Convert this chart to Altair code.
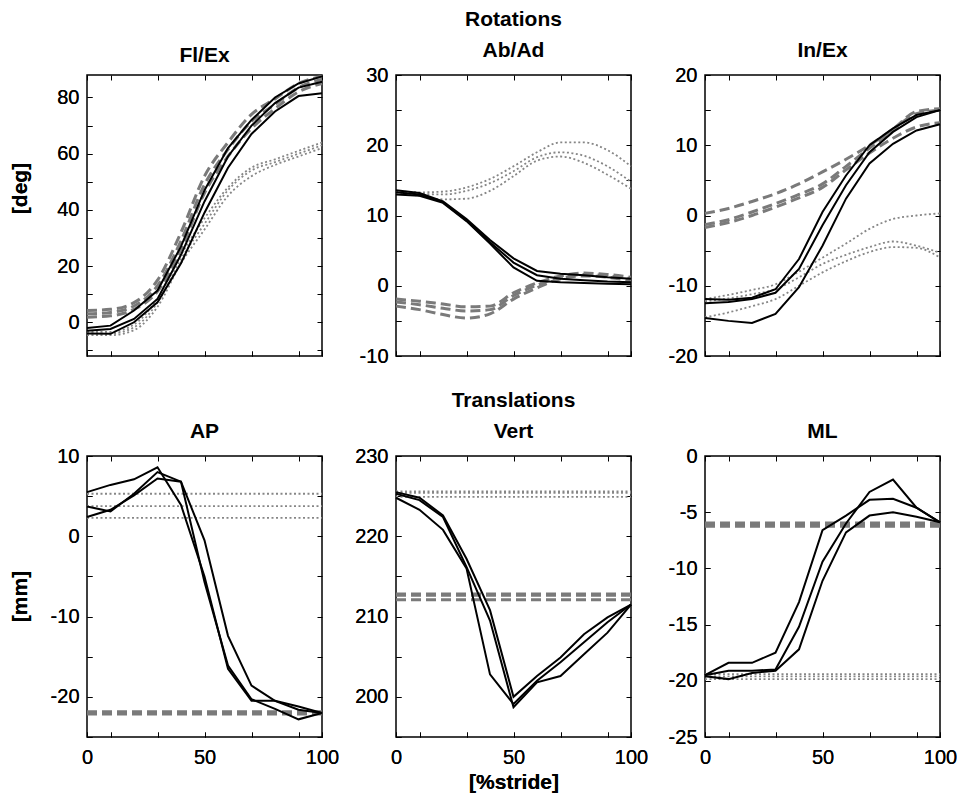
import altair as alt
import pandas as pd

# ---------------- data ----------------
X = [0, 10, 20, 30, 40, 50, 60, 70, 80, 90, 100]
X_ENDS = [0, 100]

# Rotations
FLEX_SOLID = [
    [-2.0, -1.2, 4.2, 11.3, 27.0, 47.0, 62.0, 72.0, 80.0, 85.0, 87.5],
    [-3.0, -2.4, 1.2, 8.3, 24.0, 43.0, 59.0, 70.0, 78.0, 83.5, 85.6],
    [-4.0, -4.1, 0.0, 7.1, 21.0, 39.0, 55.0, 67.0, 75.0, 80.5, 81.5],
]
FLEX_DASHED = [
    [4.2, 4.6, 7.0, 15.0, 32.0, 52.0, 64.0, 74.0, 79.5, 85.0, 87.5],
    [3.0, 3.5, 5.8, 13.0, 29.0, 49.0, 61.5, 71.5, 77.5, 83.5, 86.5],
    [1.8, 2.3, 4.6, 11.0, 26.0, 46.0, 59.0, 69.0, 76.0, 82.0, 85.0],
]
FLEX_DOTTED = [
    [-3.4, -3.4, -0.8, 8.5, 24.0, 37.0, 48.0, 55.0, 58.0, 61.0, 64.0],
    [-4.0, -4.0, -1.8, 7.0, 22.5, 35.0, 47.0, 54.0, 57.0, 60.0, 63.0],
    [-4.6, -4.6, -2.8, 5.5, 21.0, 33.0, 45.0, 52.0, 56.0, 59.0, 62.0],
]

ABAD_SOLID = [
    [13.6, 13.2, 12.0, 9.5, 6.5, 3.9, 2.1, 1.7, 1.5, 1.2, 1.0],
    [13.3, 13.0, 11.9, 9.3, 6.2, 3.3, 1.5, 1.0, 0.8, 0.6, 0.5],
    [13.0, 12.8, 11.8, 9.2, 6.0, 2.6, 0.7, 0.5, 0.4, 0.3, 0.2],
]
ABAD_DASHED = [
    [-1.9, -2.2, -2.6, -3.0, -2.9, -1.0, 0.4, 1.4, 1.8, 1.6, 1.2],
    [-2.3, -2.7, -3.2, -3.6, -3.4, -1.4, 0.1, 1.2, 1.6, 1.4, 1.0],
    [-2.9, -3.4, -4.1, -4.6, -4.0, -1.9, -0.3, 1.0, 1.4, 1.2, 0.7],
]
ABAD_DOTTED = [
    [13.5, 13.3, 13.4, 14.0, 15.2, 17.0, 19.0, 20.4, 20.4, 19.3, 17.0],
    [13.4, 13.1, 13.0, 13.5, 14.6, 16.3, 18.3, 19.0, 18.5, 17.0, 14.8],
    [13.3, 12.8, 12.3, 12.4, 13.5, 15.6, 17.8, 18.4, 17.5, 15.8, 13.8],
]

INEX_SOLID = [
    [-11.9, -12.0, -11.7, -10.5, -6.2, 0.5, 5.7, 10.0, 12.4, 14.3, 15.0],
    [-12.5, -12.3, -11.9, -11.0, -7.6, -1.4, 4.3, 9.0, 11.9, 14.0, 15.0],
    [-14.6, -15.0, -15.3, -14.0, -10.2, -4.3, 2.4, 7.4, 10.2, 12.1, 13.0],
]
INEX_DASHED = [
    [0.3, 1.0, 2.0, 3.1, 4.5, 6.2, 8.0, 10.0, 12.3, 14.8, 15.2],
    [-1.3, -0.6, 0.5, 1.7, 3.0, 4.5, 7.0, 9.6, 12.2, 14.5, 15.0],
    [-1.7, -1.0, 0.0, 1.2, 2.5, 4.0, 6.5, 8.9, 11.0, 12.6, 13.2],
]
INEX_DOTTED = [
    [-11.9, -11.3, -10.6, -9.8, -8.0, -6.0, -4.0, -1.9, -0.5, 0.0, 0.3],
    [-12.2, -11.8, -11.2, -10.5, -8.8, -6.9, -5.6, -4.5, -3.7, -4.3, -5.3],
    [-14.5, -13.8, -12.9, -11.9, -10.0, -8.1, -6.5, -5.2, -4.5, -4.6, -6.0],
]

# Translations
AP_SOLID = [
    [5.5, 6.4, 7.1, 8.6, 3.9, -5.0, -16.5, -20.5, -20.5, -21.2, -22.0],
    [3.7, 3.1, 5.3, 8.0, 6.8, -0.5, -12.4, -18.6, -20.5, -21.6, -22.0],
    [2.4, 3.3, 5.1, 7.2, 6.8, -5.7, -16.1, -20.3, -21.5, -22.8, -22.0],
]
AP_DASHED_LEVELS = [-21.85, -22.0, -22.15]
AP_DOTTED_LEVELS = [5.3, 3.75, 2.3]

VERT_SOLID = [
    [224.8, 223.3, 220.8, 216.0, 202.8, 199.1, 202.0, 204.3, 206.8, 209.3, 211.5],
    [225.3, 224.5, 222.4, 216.2, 209.5, 198.7, 201.8, 202.6, 205.3, 208.0, 211.5],
    [225.5, 224.8, 222.6, 217.2, 210.8, 200.0, 202.6, 204.9, 207.8, 209.9, 211.5],
]
VERT_DASHED_LEVELS = [212.8, 212.65, 212.1]
VERT_DOTTED_LEVELS = [225.6, 225.4, 224.9]

ML_SOLID = [
    [-19.5, -18.4, -18.4, -17.5, -13.0, -6.6, -5.3, -3.9, -3.8, -4.6, -5.9],
    [-19.5, -19.1, -19.1, -19.0, -15.2, -9.4, -6.0, -3.2, -2.1, -4.6, -5.9],
    [-19.6, -19.85, -19.3, -19.1, -17.2, -11.1, -6.8, -5.3, -5.0, -5.4, -5.9],
]
ML_DASHED_LEVELS = [-5.95, -6.1, -6.25]
ML_DOTTED_LEVELS = [-19.4, -19.6, -19.85]

X_TICKS = [0, 10, 30, 50, 70, 90, 100]

FONT = "Liberation Sans"
BLACK = "#000000"
GRAY_DASH = "#7a7a7a"
GRAY_DOT = "#868686"


def curves(rows):
    return pd.DataFrame(
        [{"x": xv, "y": yv, "s": i} for i, ys in enumerate(rows) for xv, yv in zip(X, ys)]
    )


def levels(vals):
    return pd.DataFrame(
        [{"x": xv, "y": v, "s": i} for i, v in enumerate(vals) for xv in X_ENDS]
    )


def panel(title, solid, dashed, dotted, ydom, ystep_tick, ystep_label, bottom_row,
          group=None, ytitle=None, ytitle_pad=10, ytitle_y=140, xtitle=None, smooth=False):
    xscale = alt.Scale(domain=[0, 100], nice=False, zero=False)
    yscale = alt.Scale(domain=ydom, nice=False, zero=False)
    lo = ydom[0]
    yticks = []
    v = ystep_tick * round(lo / ystep_tick)
    while v <= ydom[1] + 1e-9:
        if v >= lo - 1e-9:
            yticks.append(v)
        v += ystep_tick

    common = dict(offset=-5, tickSize=5, domain=False, grid=False,
                  labelOverlap=False, labelFlush=False)
    xlab = "datum.value % 50 === 0 ? '' + datum.value : ''"

    if bottom_row:
        if xtitle:
            xa = alt.Axis(orient="bottom", values=X_TICKS, labelExpr=xlab,
                          labelPadding=10, title=xtitle, titlePadding=4, **common)
        else:
            xa = alt.Axis(orient="bottom", values=X_TICKS, labelExpr=xlab,
                          labelPadding=10, title=None, **common)
    else:
        xa = alt.Axis(orient="bottom", values=X_TICKS, labels=False, title=None, **common)

    ylab = f"datum.value % {ystep_label} === 0 ? '' + datum.value : ''"
    if ytitle:
        ya = alt.Axis(orient="left", values=yticks, labelExpr=ylab,
                      labelPadding=8, title=ytitle, titlePadding=ytitle_pad,
                      titleY=ytitle_y, **common)
    else:
        ya = alt.Axis(orient="left", values=yticks, labelExpr=ylab,
                      labelPadding=8, title=None, **common)
    xa_top = alt.Axis(orient="top", values=X_TICKS, labels=False, title=None, **common)
    ya_right = alt.Axis(orient="right", values=yticks, labels=False, title=None, **common)

    interp = "monotone" if smooth else "linear"
    enc = dict(
        x=alt.X("x:Q", scale=xscale, axis=xa),
        y=alt.Y("y:Q", scale=yscale, axis=ya),
        detail="s:N",
    )
    solid_layer = alt.Chart(solid).mark_line(color=BLACK, strokeWidth=2).encode(**enc)
    dashed_layer = alt.Chart(dashed).mark_line(
        color=GRAY_DASH, strokeWidth=3, strokeDash=[10, 5], interpolate=interp
    ).encode(**enc)
    dotted_layer = alt.Chart(dotted).mark_line(
        color=GRAY_DOT, strokeWidth=1.8, strokeDash=[2, 2.5], interpolate=interp
    ).encode(
        x=alt.X("x:Q", scale=xscale, axis=xa_top),
        y=alt.Y("y:Q", scale=yscale, axis=ya_right),
        detail="s:N",
    )
    if group:
        tp = alt.TitleParams(text=group, subtitle=title, anchor="middle", frame="group")
    else:
        tp = alt.TitleParams(text=title, anchor="middle", frame="group")
    return alt.layer(dotted_layer, dashed_layer, solid_layer).properties(
        width=235, height=281, title=tp,
    )


panels = [
    panel("Fl/Ex", curves(FLEX_SOLID), curves(FLEX_DASHED), curves(FLEX_DOTTED),
          [-12, 88], 10, 20, False, ytitle="[deg]", ytitle_pad=26, ytitle_y=113, smooth=True),
    panel("Ab/Ad", curves(ABAD_SOLID), curves(ABAD_DASHED), curves(ABAD_DOTTED),
          [-10, 30], 5, 10, False, group="Rotations", smooth=True),
    panel("In/Ex", curves(INEX_SOLID), curves(INEX_DASHED), curves(INEX_DOTTED),
          [-20, 20], 5, 10, False, smooth=True),
    panel("AP", curves(AP_SOLID), levels(AP_DASHED_LEVELS), levels(AP_DOTTED_LEVELS),
          [-25, 10], 5, 10, True, ytitle="[mm]", ytitle_pad=20, ytitle_y=140),
    panel("Vert", curves(VERT_SOLID), levels(VERT_DASHED_LEVELS),
          levels(VERT_DOTTED_LEVELS), [195, 230], 5, 10, True, group="Translations",
          xtitle="[%stride]"),
    panel("ML", curves(ML_SOLID), levels(ML_DASHED_LEVELS), levels(ML_DOTTED_LEVELS),
          [-25, 0], 5, 5, True),
]

chart = alt.concat(
    *panels, columns=3, spacing={"row": 100, "column": 74}, bounds="flush"
).properties(
    padding={"left": 0, "top": 0, "right": 5, "bottom": 0}
).configure_view(
    stroke="black", strokeWidth=1.5
).configure_axis(
    labelFont=FONT, labelFontSize=20, labelColor="black",
    tickColor="black", tickWidth=1,
    titleFont=FONT, titleFontSize=21, titleFontWeight="bold", titleColor="black",
).configure_title(
    font=FONT, fontSize=21, fontWeight="bold", color="black",
    subtitleFont=FONT, subtitleFontSize=21, subtitleFontWeight="bold",
    subtitleColor="black", subtitlePadding=10,
    offset=0, anchor="middle",
)

chart.save("out.html", embed_options={"renderer": "svg", "actions": False})
